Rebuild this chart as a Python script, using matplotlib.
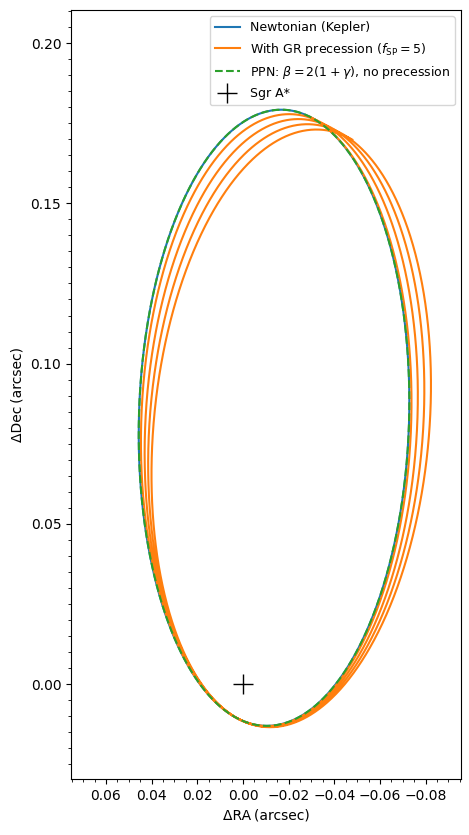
import numpy as np
import matplotlib
matplotlib.use("Agg")
from matplotlib import pyplot as plt
from matplotlib.ticker import MultipleLocator

# projected orbit (arcsec)
# sky position = (cosE - e) * P + sqrt(1-e^2) * sinE * Q,  components are (dRA, dDec)
ecc = 0.884
P_vec = [0.0154, -0.094]
Q_vec = [0.1224, 0.0428]
prec_per_orbit_deg = 1.18     # orange track turns this much per revolution
n_orbits = 4
start_E_deg = 180.0           # track starts at apocentre
sgr_a = [0.0, 0.0]

labels = ['Newtonian (Kepler)',
          r'With GR precession ($f_{\rm SP}=5$)',
          r'PPN: $\beta=2(1+\gamma)$, no precession',
          'Sgr A*']


def orbit(E, dw):
    p = np.array(P_vec)[:, None]
    q = np.array(Q_vec)[:, None]
    c, s = np.cos(dw), np.sin(dw)
    p2 = p * c + q * s
    q2 = -p * s + q * c
    X = np.cos(E) - ecc
    Y = np.sqrt(1 - ecc ** 2) * np.sin(E)
    pos = X * p2 + Y * q2
    return pos[0], pos[1]


E = np.radians(np.linspace(0, 360, 1500))
ra_n, dec_n = orbit(E, np.zeros_like(E))

# precessing track: periapsis angle grows with time (mean anomaly)
E_gr = np.radians(np.linspace(start_E_deg, start_E_deg + 360 * n_orbits, 1500 * n_orbits))
M_gr = E_gr - ecc * np.sin(E_gr)
dw = np.radians(prec_per_orbit_deg) * (M_gr - M_gr[0]) / (2 * np.pi)
ra_gr, dec_gr = orbit(E_gr, dw)

fig = plt.figure(figsize=(4.69, 8.35), dpi=100)
ax = fig.add_axes([0.1514, 0.067, 0.8316, 0.921])

ax.plot(ra_n, dec_n, color='C0', lw=1.5, label=labels[0])
ax.plot(ra_gr, dec_gr, color='C1', lw=1.5, label=labels[1])
ax.plot(ra_n, dec_n, color='C2', lw=1.5, ls='--', label=labels[2])
ax.plot(sgr_a[0], sgr_a[1], '+', color='k', ms=15, mew=1.0, ls='none', label=labels[3])

ax.set_xlim(0.0753, -0.0955)
ax.set_ylim(-0.0296, 0.2103)
ax.xaxis.set_major_locator(MultipleLocator(0.02))
ax.xaxis.set_minor_locator(MultipleLocator(0.005))
ax.yaxis.set_major_locator(MultipleLocator(0.05))
ax.yaxis.set_minor_locator(MultipleLocator(0.005))

ax.set_xlabel('\u0394RA\u2009(arcsec)')
ax.set_ylabel('\u0394Dec\u2009(arcsec)')
ax.legend(loc='upper right', fontsize=9)

fig.savefig('out.png', dpi=100)
